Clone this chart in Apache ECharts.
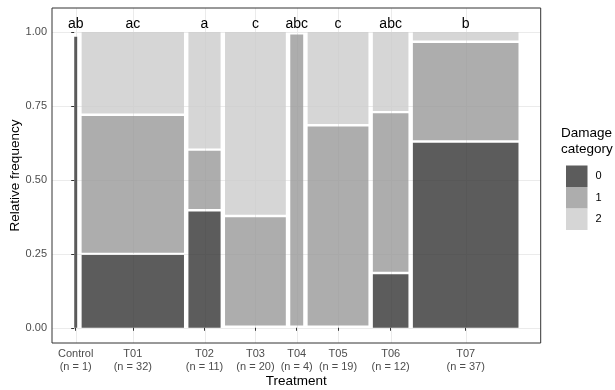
<!DOCTYPE html>
<html>
<head>
<meta charset="utf-8">
<script src="https://cdn.jsdelivr.net/npm/echarts@6/dist/echarts.min.js"></script>
<style>html,body{margin:0;padding:0;background:#fff}#chart{width:615px;height:390px}</style>
</head>
<body>
<div id="chart"></div>
<script>
// ---- data ----
const treatments = ['Control', 'T01', 'T02', 'T03', 'T04', 'T05', 'T06', 'T07'];
const nObs = [1, 32, 11, 20, 4, 19, 12, 37];
// relative column widths (% of total tile width)
const widthShare = [0.72, 24.77, 7.79, 14.71, 3.13, 14.71, 8.61, 25.56];
// relative frequency of each damage category per treatment
const freq0 = [1, 0.25, 0.40, 0, 0, 0, 0.184, 0.636];
const freq1 = [0, 0.47, 0.20, 0.372, 1, 0.684, 0.545, 0.335];
const freq2 = [0, 0.28, 0.40, 0.628, 0, 0.316, 0.271, 0.029];
const letters = ['ab', 'ac', 'a', 'c', 'abc', 'c', 'abc', 'b'];
const damageCategories = ['0', '1', '2'];
const yTicks = [0, 0.25, 0.5, 0.75, 1];

// ---- layout of the mosaic (spacing like ggmosaic) ----
const X_GAP = 0.01, Y_GAP = 0.008;
const X_MIN = -0.05, X_MAX = 1.05, Y_MIN = -0.0515, Y_MAX = 1.0815;
const LETTER_Y = 1.028;
const freqs = [freq0, freq1, freq2];
const colors = ['rgba(51,51,51,0.8)', 'rgba(153,153,153,0.8)', 'rgba(204,204,204,0.8)'];
const FONT = "'Liberation Sans', Arial, sans-serif";

const totalShare = widthShare.reduce((a, b) => a + b, 0);
const usable = 1 - X_GAP * (treatments.length - 1);
const colX0 = [], colX1 = [], centers = [];
let cx = 0;
widthShare.forEach((s, i) => {
  const w = usable * s / totalShare;
  colX0.push(cx); colX1.push(cx + w); centers.push(cx + w / 2);
  cx += w + X_GAP;
});
const yScale = 1 - Y_GAP * (damageCategories.length - 1);

function tilesFor(c) {
  const out = [];
  treatments.forEach((t, i) => {
    let y0 = c * Y_GAP;
    for (let j = 0; j < c; j++) y0 += freqs[j][i] * yScale;
    const h = freqs[c][i] * yScale;
    if (h > 0) out.push([colX0[i], colX1[i], y0, y0 + h]);
  });
  return out;
}

function renderTile(params, api) {
  const p0 = api.coord([api.value(0), api.value(3)]);
  const p1 = api.coord([api.value(1), api.value(2)]);
  return {
    type: 'rect',
    shape: { x: p0[0], y: p0[1], width: p1[0] - p0[0], height: p1[1] - p0[1] },
    style: { fill: api.visual('color') }
  };
}

// gridlines
const gridData = [];
yTicks.forEach(v => gridData.push([0, v]));
centers.forEach(v => gridData.push([1, v]));

const series = [{
  type: 'custom',
  name: 'grid',
  silent: true,
  z: 0,
  data: gridData,
  renderItem: function (params, api) {
    const kind = api.value(0), v = api.value(1);
    let a, b;
    if (kind === 0) { a = api.coord([X_MIN, v]); b = api.coord([X_MAX, v]); a[1] = b[1] = Math.round(a[1]) + 0.5; }
    else { a = api.coord([v, Y_MIN]); b = api.coord([v, Y_MAX]); a[0] = b[0] = Math.round(a[0]) + 0.5; }
    return { type: 'line', shape: { x1: a[0], y1: a[1], x2: b[0], y2: b[1] }, style: { stroke: '#ebebeb', lineWidth: 1 } };
  }
}];

damageCategories.forEach((cat, c) => {
  series.push({
    type: 'custom',
    name: cat,
    z: 2,
    itemStyle: { color: colors[c] },
    encode: { x: [0, 1], y: [2, 3] },
    data: tilesFor(c),
    renderItem: renderTile
  });
});

series.push({
  type: 'custom',
  name: 'letters',
  silent: true,
  z: 3,
  data: letters.map((l, i) => [centers[i], LETTER_Y, l]),
  renderItem: function (params, api) {
    const p = api.coord([api.value(0), api.value(1)]);
    return {
      type: 'text',
      style: {
        x: p[0], y: p[1], text: letters[params.dataIndex],
        textAlign: 'center', textVerticalAlign: 'middle',
        fill: '#000', font: '14px ' + FONT
      }
    };
  }
});

const chart = echarts.init(document.getElementById('chart'), null, { renderer: 'canvas' });
chart.setOption({
  animation: false,
  backgroundColor: '#fff',
  textStyle: { fontFamily: FONT },
  grid: { left: 52, right: 74.3, top: 8, bottom: 47, containLabel: false, outerBoundsMode: 'none', show: true, borderColor: '#333', borderWidth: 1, backgroundColor: 'transparent', z: 10 },
  xAxis: {
    type: 'value', min: X_MIN, max: X_MAX,
    name: 'Treatment', nameLocation: 'middle', nameGap: 31, nameMoveOverlap: false,
    nameTextStyle: { fontSize: 13.5, color: '#000', fontFamily: FONT },
    axisLine: { show: false },
    splitLine: { show: false },
    axisTick: { show: true, length: 3, lineStyle: { color: '#333' }, customValues: centers },
    axisLabel: {
      customValues: centers, margin: 5, fontSize: 11, lineHeight: 12.5, color: '#4d4d4d', fontFamily: FONT,
      hideOverlap: false,
      formatter: function (v) {
        let best = 0;
        centers.forEach((c, i) => { if (Math.abs(c - v) < Math.abs(centers[best] - v)) best = i; });
        return treatments[best] + '\n(n = ' + nObs[best] + ')';
      }
    }
  },
  yAxis: {
    type: 'value', min: Y_MIN, max: Y_MAX,
    name: 'Relative frequency', nameLocation: 'middle', nameGap: 30, nameRotate: 90, nameMoveOverlap: false,
    nameTextStyle: { fontSize: 13.5, color: '#000', fontFamily: FONT },
    axisLine: { show: false },
    splitLine: { show: false },
    axisTick: { show: true, length: 3, lineStyle: { color: '#333' }, customValues: yTicks },
    axisLabel: {
      customValues: yTicks, margin: 5, fontSize: 11, color: '#4d4d4d', fontFamily: FONT,
      formatter: v => v.toFixed(2)
    }
  },
  legend: {
    data: damageCategories.map(c => ({ name: c, icon: 'rect' })),
    orient: 'vertical', left: 561, top: 160.5,
    itemWidth: 21.5, itemHeight: 21.5, itemGap: 0,
    selectedMode: false,
    textStyle: { fontSize: 11, color: '#000', fontFamily: FONT, padding: [0, 0, 0, 3] }
  },
  graphic: [{
    type: 'text', left: 561, top: 125,
    style: { text: 'Damage\ncategory', font: '13.5px ' + FONT, fill: '#000', lineHeight: 16 }
  }],
  series: series
});
</script>
</body>
</html>
